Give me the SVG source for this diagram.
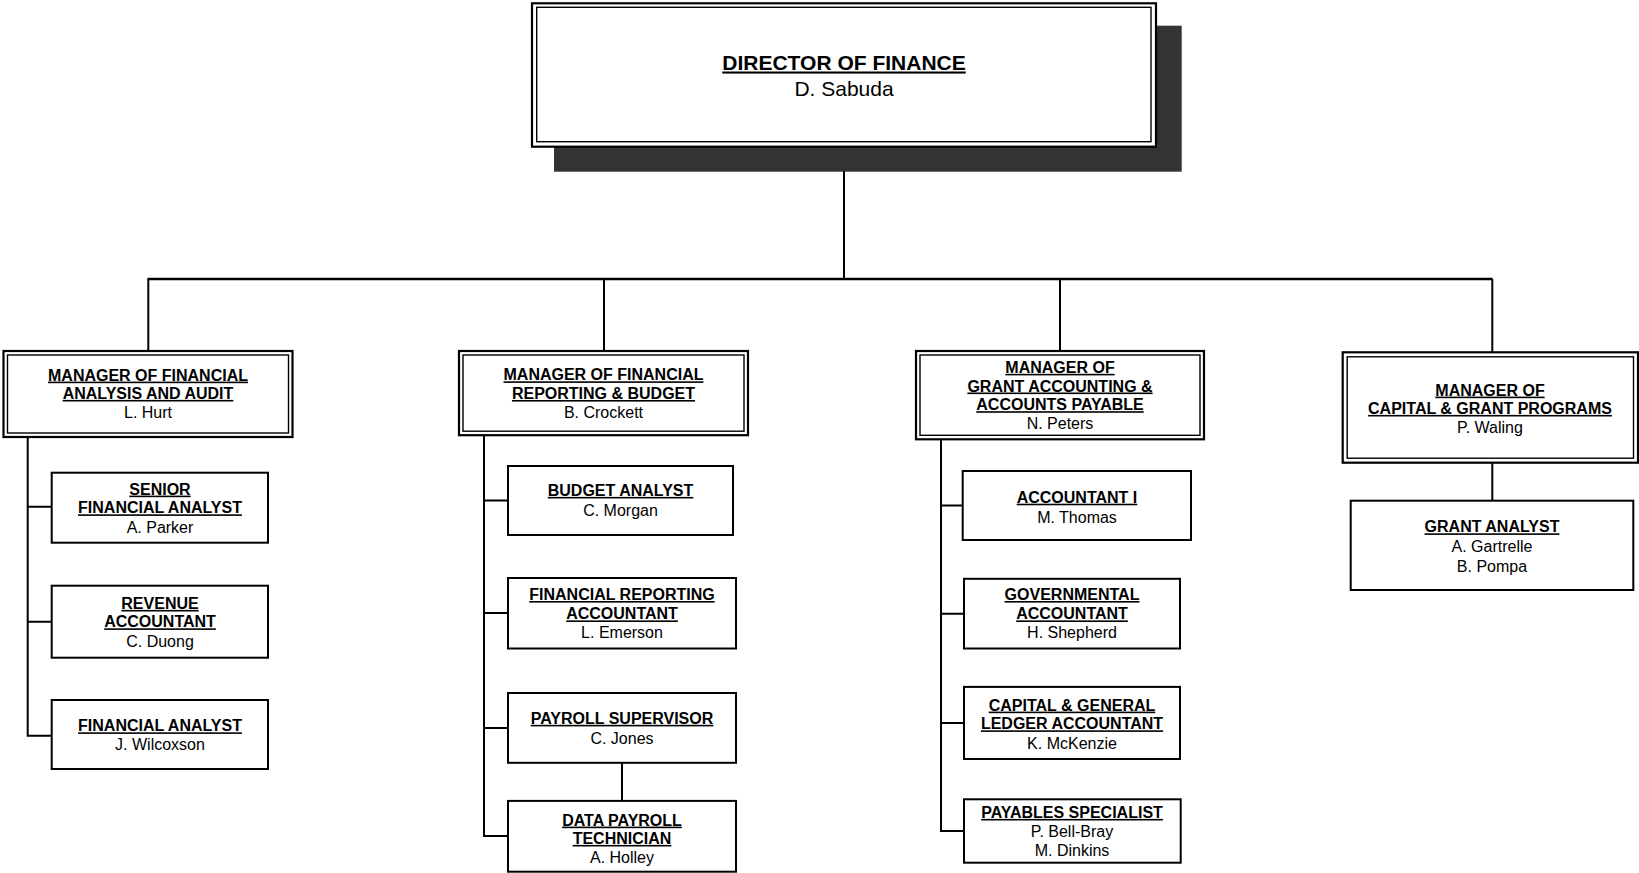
<svg xmlns="http://www.w3.org/2000/svg" width="1639" height="873" viewBox="0 0 1639 873">
<style>
text{font-family:"Liberation Sans",Arial,sans-serif;fill:#000;text-anchor:middle}
.t{font-weight:bold;font-size:16px;text-decoration:underline}
.n{font-size:16px}
.dt{font-weight:bold;font-size:21px;text-decoration:underline}
.dn{font-size:21px}
.box{fill:#fff;stroke:#000;stroke-width:2}
.outer{fill:#fff;stroke:#000;stroke-width:2.2}
.inner{fill:none;stroke:#000;stroke-width:1.4}
.ln{fill:none;stroke:#000;stroke-width:2}
</style>
<rect width="1639" height="873" fill="#fff"/>
<g id="connectors">
<line class="ln" x1="844" y1="147" x2="844" y2="279"/>
<line x1="147.5" y1="279" x2="1492.5" y2="279" stroke="#000" stroke-width="2.6"/>
<line class="ln" x1="148.3" y1="279" x2="148.3" y2="351"/>
<line class="ln" x1="604" y1="279" x2="604" y2="351"/>
<line class="ln" x1="1060" y1="279" x2="1060" y2="351"/>
<line class="ln" x1="1492.3" y1="279" x2="1492.3" y2="352"/>
<path class="ln" d="M27.7 437 V735.7 H51.7 M27.7 506.7 H51.7 M27.7 621.7 H51.7"/>
<path class="ln" d="M484 435 V836 H508 M484 500.5 H508 M484 613 H508 M484 728 H508"/>
<line class="ln" x1="622" y1="762.8" x2="622" y2="800.9"/>
<path class="ln" d="M941 439 V831 H964 M941 505.5 H962.7 M941 613.7 H964 M941 723 H964"/>
<line class="ln" x1="1492.3" y1="462.7" x2="1492.3" y2="500.7"/>
</g>
<g id="director">
<rect x="554" y="25.7" width="627.7" height="146" fill="#333"/>
<rect class="outer" x="532" y="3.3" width="624" height="143.4" stroke-width="2.6"/>
<rect class="inner" x="536.7" y="7.3" width="614.3" height="134.4"/>
<text class="dt" x="844" y="69.5">DIRECTOR OF FINANCE</text>
<text class="dn" x="844" y="95.5">D. Sabuda</text>
</g>
<g id="mgr-analysis">
<rect class="outer" x="3.5" y="351" width="289" height="86"/>
<rect class="inner" x="7.5" y="355" width="281" height="78"/>
<text class="t" x="148" y="380.6">MANAGER OF FINANCIAL</text>
<text class="t" x="148" y="398.9">ANALYSIS AND AUDIT</text>
<text class="n" x="148" y="418.3">L. Hurt</text>
</g>
<g id="senior-fa">
<rect class="box" x="51.7" y="472.7" width="216.3" height="70"/>
<text class="t" x="160" y="494.6">SENIOR</text>
<text class="t" x="160" y="513.3">FINANCIAL ANALYST</text>
<text class="n" x="160" y="533.3">A. Parker</text>
</g>
<g id="revenue-acct">
<rect class="box" x="51.7" y="585.7" width="216.3" height="72"/>
<text class="t" x="160" y="608.9">REVENUE</text>
<text class="t" x="160" y="627.3">ACCOUNTANT</text>
<text class="n" x="160" y="647.3">C. Duong</text>
</g>
<g id="financial-analyst">
<rect class="box" x="51.7" y="700" width="216.3" height="69"/>
<text class="t" x="160" y="731.3">FINANCIAL ANALYST</text>
<text class="n" x="160" y="749.9">J. Wilcoxson</text>
</g>
<g id="mgr-reporting">
<rect class="outer" x="459" y="351" width="289" height="84.2"/>
<rect class="inner" x="463" y="355" width="281" height="76.2"/>
<text class="t" x="603.5" y="380.3">MANAGER OF FINANCIAL</text>
<text class="t" x="603.5" y="399">REPORTING &amp; BUDGET</text>
<text class="n" x="603.5" y="418">B. Crockett</text>
</g>
<g id="budget-analyst">
<rect class="box" x="508" y="466" width="225" height="69"/>
<text class="t" x="620.5" y="495.9">BUDGET ANALYST</text>
<text class="n" x="620.5" y="516.3">C. Morgan</text>
</g>
<g id="fin-reporting-acct">
<rect class="box" x="508" y="578" width="228" height="70.5"/>
<text class="t" x="622" y="600">FINANCIAL REPORTING</text>
<text class="t" x="622" y="619.4">ACCOUNTANT</text>
<text class="n" x="622" y="638.1">L. Emerson</text>
</g>
<g id="payroll-supervisor">
<rect class="box" x="508" y="693" width="228" height="69.8"/>
<text class="t" x="622" y="723.8">PAYROLL SUPERVISOR</text>
<text class="n" x="622" y="743.6">C. Jones</text>
</g>
<g id="data-payroll">
<rect class="box" x="508" y="800.9" width="228" height="70.8"/>
<text class="t" x="622" y="825.6">DATA PAYROLL</text>
<text class="t" x="622" y="843.9">TECHNICIAN</text>
<text class="n" x="622" y="862.9">A. Holley</text>
</g>
<g id="mgr-grant-acct">
<rect class="outer" x="916" y="351" width="288" height="88.3"/>
<rect class="inner" x="920" y="355" width="280" height="80.3"/>
<text class="t" x="1060" y="372.8">MANAGER OF</text>
<text class="t" x="1060" y="391.5">GRANT ACCOUNTING &amp;</text>
<text class="t" x="1060" y="410.2">ACCOUNTS PAYABLE</text>
<text class="n" x="1060" y="428.9">N. Peters</text>
</g>
<g id="accountant-i">
<rect class="box" x="962.7" y="471" width="228.3" height="69"/>
<text class="t" x="1077" y="502.7">ACCOUNTANT I</text>
<text class="n" x="1077" y="522.5">M. Thomas</text>
</g>
<g id="governmental-acct">
<rect class="box" x="964" y="578.8" width="216" height="69.7"/>
<text class="t" x="1072" y="600">GOVERNMENTAL</text>
<text class="t" x="1072" y="619.4">ACCOUNTANT</text>
<text class="n" x="1072" y="638.1">H. Shepherd</text>
</g>
<g id="capital-gl-acct">
<rect class="box" x="964" y="686.9" width="216" height="72.1"/>
<text class="t" x="1072" y="710.6">CAPITAL &amp; GENERAL</text>
<text class="t" x="1072" y="729.3">LEDGER ACCOUNTANT</text>
<text class="n" x="1072" y="748.6">K. McKenzie</text>
</g>
<g id="payables-specialist">
<rect class="box" x="964" y="799.3" width="216.7" height="63.4"/>
<text class="t" x="1072" y="817.9">PAYABLES SPECIALIST</text>
<text class="n" x="1072" y="837.3">P. Bell-Bray</text>
<text class="n" x="1072" y="856.3">M. Dinkins</text>
</g>
<g id="mgr-capital">
<rect class="outer" x="1342.7" y="352.3" width="295.3" height="110.4"/>
<rect class="inner" x="1347.2" y="356.8" width="286.3" height="101.4"/>
<text class="t" x="1490" y="395.6">MANAGER OF</text>
<text class="t" x="1490" y="413.9">CAPITAL &amp; GRANT PROGRAMS</text>
<text class="n" x="1490" y="432.9">P. Waling</text>
</g>
<g id="grant-analyst">
<rect class="box" x="1350.7" y="500.7" width="282.6" height="89.3"/>
<text class="t" x="1492" y="532.3">GRANT ANALYST</text>
<text class="n" x="1492" y="552.3">A. Gartrelle</text>
<text class="n" x="1492" y="571.6">B. Pompa</text>
</g>
</svg>
